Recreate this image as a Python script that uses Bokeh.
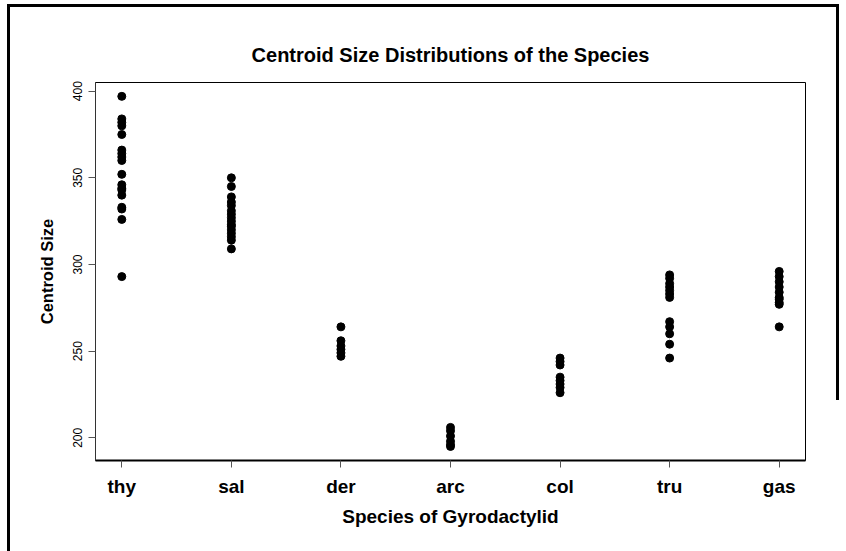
from bokeh.plotting import figure
from bokeh.models import Range1d, FixedTicker
from bokeh.embed import file_html
from bokeh.resources import INLINE

species = ["thy", "sal", "der", "arc", "col", "tru", "gas"]
thy = [397, 384, 382, 380, 375, 366, 364, 362, 360, 352, 346, 344, 343, 340, 333, 332, 326, 293]
sal = [350, 345, 339, 336, 334, 331, 329, 327, 325, 323, 322, 320, 318, 316, 314, 309]
der = [264, 256, 253, 251, 249, 247]
arc = [206, 204, 201, 198, 196, 195]
col = [246, 244, 242, 235, 233, 231, 229, 226]
tru = [294, 292, 289, 287, 285, 283, 281, 267, 264, 260, 254, 246]
gas = [296, 293, 290, 287, 284, 281, 280, 278, 277, 264]
groups = [thy, sal, der, arc, col, tru, gas]
y_ticks = [200, 250, 300, 350, 400]

xs, ys = [], []
for i, vals in enumerate(groups):
    xs += [i + 1] * len(vals)
    ys += vals

FONT = "Liberation Sans"

p = figure(width=846, height=551, output_backend="svg", toolbar_location=None,
           x_range=Range1d(0.76, 7.24), y_range=Range1d(186.9, 405.0),
           min_border_left=95, min_border_right=41, min_border_top=82, min_border_bottom=91,
           title="Centroid Size Distributions of the Species")
p.title.align = "center"
p.title.text_font = FONT
p.title.text_font_size = "20px"
p.title.text_font_style = "bold"
p.title.text_color = "black"
p.title.standoff = 33

p.grid.visible = False
p.outline_line_color = "black"
p.outline_line_width = 1
p.background_fill_color = "white"
p.border_fill_color = None

# outer page frame drawn behind the transparent border area
p.styles = {
    "background": (
        "linear-gradient(#000,#000) 7px 4px / 3px 560px no-repeat, "
        "linear-gradient(#000,#000) 7px 4px / 832px 3px no-repeat, "
        "linear-gradient(#000,#000) 836px 4px / 3px 396px no-repeat, "
        "#ffffff"
    )
}

p.scatter(xs, ys, size=8, color="black")

xa = p.xaxis[0]
xa.ticker = FixedTicker(ticks=list(range(1, len(species) + 1)))
xa.major_label_overrides = {i + 1: s for i, s in enumerate(species)}
xa.minor_tick_line_color = None
xa.major_tick_in = 0
xa.major_tick_out = 7
xa.axis_line_width = 2
xa.axis_line_color = "black"
xa.major_tick_line_color = "#555555"
xa.major_label_text_font = FONT
xa.major_label_text_font_size = "19px"
xa.major_label_text_font_style = "bold"
xa.major_label_text_color = "black"
xa.major_label_standoff = 8
xa.axis_label = "Species of Gyrodactylid"
xa.axis_label_text_font = FONT
xa.axis_label_text_font_size = "19px"
xa.axis_label_text_font_style = "bold"
xa.axis_label_text_color = "black"
xa.axis_label_standoff = 6

ya = p.yaxis[0]
ya.ticker = FixedTicker(ticks=y_ticks)
ya.minor_tick_line_color = None
ya.major_tick_in = 0
ya.major_tick_out = 7
ya.axis_line_color = "#333333"
ya.major_tick_line_color = "#555555"
ya.major_label_orientation = "vertical"
ya.major_label_text_font = FONT
ya.major_label_text_font_size = "12px"
ya.major_label_text_color = "black"
ya.major_label_standoff = 6
ya.axis_label = "Centroid Size"
ya.axis_label_text_font = FONT
ya.axis_label_text_font_size = "16.5px"
ya.axis_label_text_font_style = "bold"
ya.axis_label_text_color = "black"
ya.axis_label_standoff = 15

open("out.html", "w").write(file_html(p, INLINE))
